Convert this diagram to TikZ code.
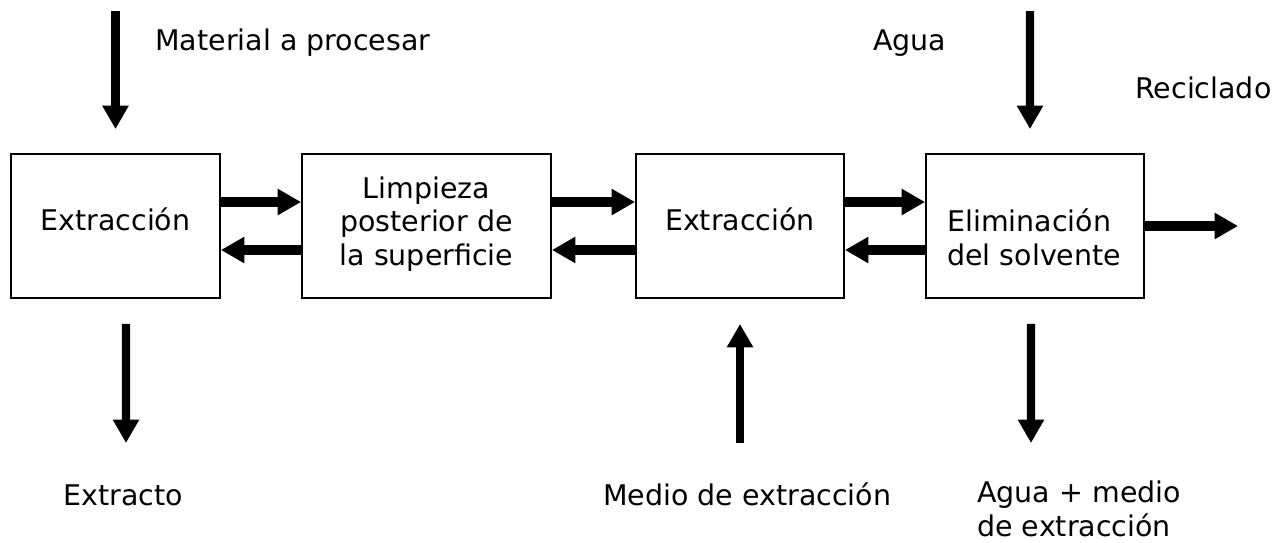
\documentclass[tikz,border=0pt]{standalone}
\usepackage{fontspec}
\setmainfont{DejaVu Sans}
\usetikzlibrary{arrows.meta}
\begin{document}
\begin{tikzpicture}[x=0.02cm,y=-0.02cm,
  every node/.style={font=\fontsize{16.2}{19}\selectfont, inner sep=0pt},
  box/.style={draw, line width=1.1pt, minimum height=2.88cm},
  harr/.style={line width=0.2cm, -{Triangle[length=0.47cm,width=0.5cm]}},
  varr/.style={line width=0.165cm, -{Triangle[length=0.47cm,width=0.5cm]}}]
\useasboundingbox (0,0) rectangle (1287,542);
% boxes
\node[box, minimum width=4.18cm] (b1) at (115.5,226) {};
\node[box, minimum width=4.98cm] (b2) at (426.5,226) {};
\node[box, minimum width=4.16cm] (b3) at (740,226) {};
\node[box, minimum width=4.36cm] (b4) at (1035,226) {};
\node[anchor=base] (t1) at (115.5,230) {Extracción};
\node[align=center, anchor=base] (t2) at (426.5,265) {Limpieza\\posterior de\\la superficie};
\node[anchor=base] (t3) at (740,230) {Extracción};
\node[align=left, anchor=base west] (t4) at (947,265) {Eliminación\\del solvente};
% horizontal arrows
\draw[harr] ([yshift=0.48cm]b1.east) -- ([yshift=0.48cm]b2.west);
\draw[harr] ([yshift=-0.48cm]b2.west) -- ([yshift=-0.48cm]b1.east);
\draw[harr] ([yshift=0.48cm]b2.east) -- ([yshift=0.48cm]b3.west);
\draw[harr] ([yshift=-0.48cm]b3.west) -- ([yshift=-0.48cm]b2.east);
\draw[harr] ([yshift=0.48cm]b3.east) -- ([yshift=0.48cm]b4.west);
\draw[harr] ([yshift=-0.48cm]b4.west) -- ([yshift=-0.48cm]b3.east);
\coordinate (out4) at (1238,226);
\draw[harr] (b4.east) -- (out4);
% vertical arrows
\coordinate (in1) at (115.5,11);
\draw[varr, shorten >=0.48cm] (in1) -- (b1.north);
\coordinate (ex1) at (126,443);
\draw[varr, shorten <=0.5cm] ([xshift=0.21cm]b1.south) -- (ex1);
\coordinate (in3) at (740,443);
\draw[varr, shorten >=0.5cm] (in3) -- (b3.south);
\coordinate (in4) at (1030,11);
\draw[varr, shorten >=0.48cm] (in4) -- ([xshift=-0.1cm]b4.north);
\coordinate (ex4) at (1031,443);
\draw[varr, shorten <=0.5cm] ([xshift=-0.08cm]b4.south) -- (ex4);
% labels
\node[anchor=base west] (lmat) at (155,50) {Material a procesar};
\node[anchor=base west] (lagua) at (873,50) {Agua};
\node[anchor=base west] (lrec) at (1135,98) {Reciclado};
\node[anchor=base west] (lext) at (63,505) {Extracto};
\node[anchor=base west] (lmed) at (603,505) {Medio de extracción};
\node[anchor=base west, align=left] (lam) at (977,536) {Agua + medio\\de extracción};
\end{tikzpicture}
\end{document}
